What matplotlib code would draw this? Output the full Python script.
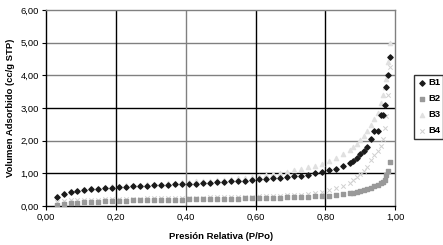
import matplotlib.pyplot as plt
import matplotlib
from matplotlib.ticker import FuncFormatter

matplotlib.rcParams['font.family'] = ['Liberation Sans', 'DejaVu Sans']
matplotlib.rcParams['font.size'] = 6.8

# Relative pressure (P/Po), shared by all samples
p_rel = [0.03, 0.05, 0.07, 0.09, 0.11, 0.13, 0.15, 0.17, 0.19, 0.21,
         0.23, 0.25, 0.27, 0.29, 0.31, 0.33, 0.35, 0.37, 0.39, 0.41,
         0.43, 0.45, 0.47, 0.49, 0.51, 0.53, 0.55, 0.57, 0.59, 0.61,
         0.63, 0.65, 0.67, 0.69, 0.71, 0.73, 0.75, 0.77, 0.79, 0.81,
         0.83, 0.85, 0.87, 0.88, 0.89, 0.90, 0.91, 0.92, 0.93, 0.94,
         0.95, 0.96, 0.965, 0.97, 0.975, 0.98, 0.985]

b1 = [0.28, 0.38, 0.43, 0.46, 0.49, 0.51, 0.53, 0.55, 0.56, 0.58,
      0.59, 0.60, 0.61, 0.62, 0.63, 0.64, 0.65, 0.66, 0.67, 0.68,
      0.69, 0.70, 0.72, 0.73, 0.74, 0.76, 0.77, 0.78, 0.80, 0.82,
      0.84, 0.85, 0.87, 0.89, 0.91, 0.93, 0.96, 1.00, 1.04, 1.09,
      1.14, 1.22, 1.32, 1.38, 1.48, 1.58, 1.68, 1.80, 2.05, 2.30,
      2.30, 2.80, 2.80, 3.10, 3.63, 4.00, 4.55]

b2 = [0.03, 0.06, 0.08, 0.10, 0.11, 0.12, 0.13, 0.14, 0.15, 0.15,
      0.16, 0.17, 0.17, 0.18, 0.18, 0.19, 0.19, 0.20, 0.20, 0.21,
      0.21, 0.21, 0.22, 0.22, 0.23, 0.23, 0.23, 0.24, 0.24, 0.25,
      0.25, 0.26, 0.26, 0.27, 0.27, 0.28, 0.29, 0.30, 0.31, 0.32,
      0.34, 0.36, 0.39, 0.41, 0.43, 0.46, 0.49, 0.52, 0.56, 0.60,
      0.64, 0.70, 0.74, 0.80, 0.95, 1.07, 1.35]

b3 = [0.30, 0.40, 0.45, 0.49, 0.52, 0.54, 0.56, 0.58, 0.60, 0.61,
      0.63, 0.64, 0.65, 0.67, 0.68, 0.69, 0.70, 0.72, 0.73, 0.74,
      0.76, 0.77, 0.78, 0.80, 0.81, 0.83, 0.85, 0.87, 0.89, 0.92,
      0.95, 0.98, 1.01, 1.05, 1.09, 1.13, 1.18, 1.24, 1.30, 1.38,
      1.47, 1.58, 1.72, 1.80, 1.90, 2.02, 2.15, 2.30, 2.48, 2.65,
      2.85, 3.15, 3.40, 3.65, 3.90, 4.40, 5.00]

b4 = [0.12, 0.15, 0.17, 0.18, 0.19, 0.20, 0.20, 0.21, 0.21, 0.22,
      0.22, 0.23, 0.23, 0.24, 0.24, 0.24, 0.25, 0.25, 0.25, 0.26,
      0.26, 0.26, 0.27, 0.27, 0.27, 0.28, 0.28, 0.29, 0.29, 0.30,
      0.30, 0.31, 0.32, 0.33, 0.34, 0.35, 0.37, 0.40, 0.44, 0.48,
      0.54, 0.62, 0.72, 0.80, 0.88, 0.98, 1.08, 1.20, 1.40, 1.55,
      1.70, 1.85, 2.05, 2.40, 2.75, 3.40, 4.25]

labels = ['B1', 'B2', 'B3', 'B4']

fig = plt.figure(figsize=(4.43, 2.45), dpi=100)
ax = fig.add_axes([0.104, 0.159, 0.788, 0.8])

ax.scatter(p_rel, b1, marker='D', s=7, color='#1a1a1a', label=labels[0], zorder=5)
ax.scatter(p_rel, b2, marker='s', s=7, color='#999999', label=labels[1], zorder=4)
ax.scatter(p_rel, b3, marker='^', s=9, color='#e0e0e0', label=labels[2], zorder=3)
ax.scatter(p_rel, b4, marker='x', s=10, linewidths=0.7, color='#d0d0d0', label=labels[3], zorder=3)

ax.set_xlim(0, 1)
ax.set_ylim(0, 6)
ax.set_xticks([0, 0.2, 0.4, 0.6, 0.8, 1.0])
ax.set_yticks([0, 1, 2, 3, 4, 5, 6])
fmt = FuncFormatter(lambda v, pos: f'{v:.2f}'.replace('.', ','))
ax.xaxis.set_major_formatter(fmt)
ax.yaxis.set_major_formatter(fmt)
ax.tick_params(length=3, width=0.8, pad=2)

# Excel-style grid with alternating dark/gray lines
hcols = {1: 'black', 2: '#808080', 3: 'black', 4: '#808080', 5: '#808080'}
for yv, c in hcols.items():
    ax.axhline(yv, color=c, lw=1.0, zorder=1)
vcols = {0.2: 'black', 0.4: '#808080', 0.6: 'black', 0.8: 'black'}
for xv, c in vcols.items():
    ax.axvline(xv, color=c, lw=1.0, zorder=1)

ax.spines['left'].set_color('black')
ax.spines['bottom'].set_color('black')
ax.spines['top'].set_color('#808080')
ax.spines['right'].set_color('#808080')
for s in ax.spines.values():
    s.set_linewidth(1.0)

ax.set_xlabel('Presión Relativa (P/Po)', fontweight='bold', labelpad=7)
ax.set_ylabel('Volumen Adsorbido (cc/g STP)', fontweight='bold', labelpad=4)

fig.legend(loc='upper left', bbox_to_anchor=(0.935, 0.695), frameon=True,
           fancybox=False, edgecolor='black', handletextpad=0.1,
           borderpad=0.35, labelspacing=0.75, handlelength=1.0,
           borderaxespad=0.0, prop={'weight': 'bold', 'size': 6.8})

fig.savefig('out.png', dpi=100)
